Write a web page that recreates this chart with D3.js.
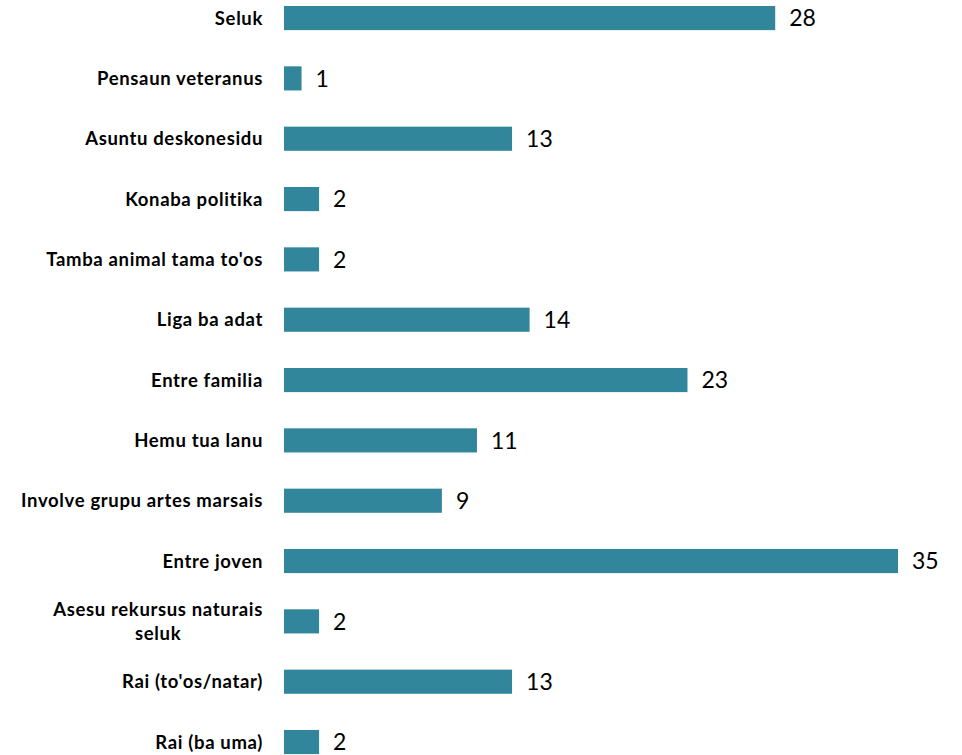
<!DOCTYPE html>
<html>
<head>
<meta charset="utf-8">
<script src="https://cdn.jsdelivr.net/npm/d3@7"></script>
<style>
  html, body { margin: 0; padding: 0; background: #fff; }
  svg { display: block; }
  .cat-label { font-family: Lato, "Noto Sans", sans-serif; font-weight: 700; font-size: 18.5px; letter-spacing: 0.65px; fill: #000; }
  .val-label { font-family: Lato, "Noto Sans", sans-serif; font-size: 23px; fill: #000; }
</style>
</head>
<body>
<div id="chart"></div>
<script>
// categories, top to bottom
const categories = [
    'Seluk',
    'Pensaun veteranus',
    'Asuntu deskonesidu',
    'Konaba politika',
    "Tamba animal tama to'os",
    'Liga ba adat',
    'Entre familia',
    'Hemu tua lanu',
    'Involve grupu artes marsais',
    'Entre joven',
    'Asesu rekursus naturais seluk',
    "Rai (to'os/natar)",
    'Rai (ba uma)'
];
const values = [28, 1, 13, 2, 2, 14, 23, 11, 9, 35, 2, 13, 2];

// labels that wrap onto two lines
const wrapped = { 'Asesu rekursus naturais seluk': ['Asesu rekursus naturais', 'seluk'] };

const width = 962;
const height = 755;
const barLeft = 284;
const labelRight = 263;

const svg = d3.select('#chart').append('svg')
    .attr('width', width)
    .attr('height', height);

const xScale = d3.scaleLinear()
    .domain([0, 35])
    .range([barLeft, 898]);

const yScale = d3.scaleBand()
    .domain(categories)
    .range([-12.1, 772.2])
    .paddingInner(0.6)
    .paddingOuter(0.3);

const rows = categories.map((c, i) => ({ name: c, value: values[i] }));

// Bars
svg.selectAll('.bar')
    .data(rows)
    .enter()
    .append('rect')
    .attr('class', 'bar')
    .attr('x', xScale(0))
    .attr('y', d => yScale(d.name))
    .attr('width', d => xScale(d.value) - xScale(0))
    .attr('height', yScale.bandwidth())
    .attr('fill', '#31869b');

// Value labels
svg.selectAll('.val-label')
    .data(rows)
    .enter()
    .append('text')
    .attr('class', 'val-label')
    .attr('x', d => xScale(d.value) + 14)
    .attr('y', d => yScale(d.name) + yScale.bandwidth() / 2)
    .attr('dy', '0.36em')
    .text(d => d.value);

// Category labels
rows.forEach(d => {
    const cy = yScale(d.name) + yScale.bandwidth() / 2;
    const lines = wrapped[d.name];
    if (!lines) {
        svg.append('text')
            .attr('class', 'cat-label')
            .attr('x', labelRight)
            .attr('y', cy)
            .attr('dy', '0.35em')
            .attr('text-anchor', 'end')
            .text(d.name);
        return;
    }
    // multi-line: block right-aligned, lines centered within it
    const lineH = 24;
    const g = svg.append('g');
    const texts = lines.map((t, i) => g.append('text')
        .attr('class', 'cat-label')
        .attr('y', cy + (i - (lines.length - 1) / 2) * lineH)
        .attr('dy', '0.35em')
        .attr('text-anchor', 'middle')
        .text(t));
    const maxW = d3.max(texts, t => t.node().getComputedTextLength());
    texts.forEach(t => t.attr('x', labelRight - maxW / 2));
});
</script>
</body>
</html>
